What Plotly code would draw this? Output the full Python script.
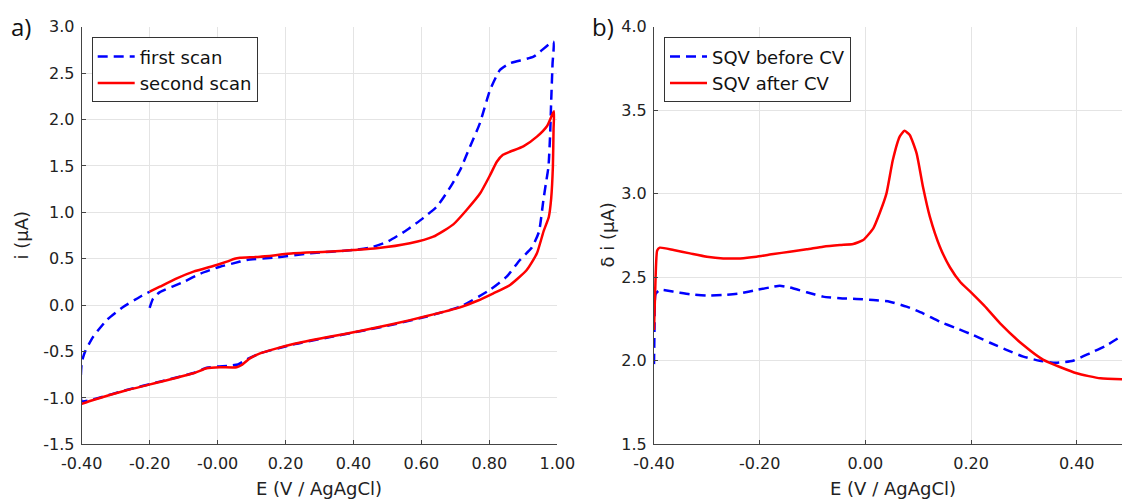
import plotly.graph_objects as go

# ---------------- panel a) cyclic voltammetry ----------------
first_E = [-0.200, -0.190, -0.170, -0.100, -0.050, 0.007, 0.046, 0.086, 0.174, 0.272,
           0.400, 0.450, 0.500, 0.557, 0.606, 0.645, 0.665, 0.690, 0.714, 0.743, 0.772,
           0.802, 0.831, 0.861, 0.930, 0.988,
           0.986, 0.982, 0.979, 0.974, 0.966, 0.959, 0.946, 0.925, 0.890, 0.851,
           0.802, 0.714, 0.616, 0.517, 0.419, 0.321, 0.223, 0.125, 0.086, 0.060,
           0.030, 0.000, -0.032, -0.071, -0.170, -0.268, -0.366, -0.400,
           -0.400, -0.390, -0.366, -0.326, -0.278, -0.228, -0.200]
first_i = [-0.03, 0.07, 0.14, 0.25, 0.34, 0.414, 0.45, 0.486, 0.515, 0.558,
           0.594, 0.62, 0.683, 0.809, 0.940, 1.060, 1.160, 1.300, 1.456, 1.707, 1.959,
           2.318, 2.533, 2.606, 2.677, 2.838,
           2.60, 2.20, 1.85, 1.49, 1.30, 1.13, 0.79, 0.62, 0.486, 0.306,
           0.165, -0.017, -0.122, -0.210, -0.282, -0.352, -0.425, -0.520, -0.585, -0.640,
           -0.655, -0.662, -0.676, -0.732, -0.825, -0.915, -1.015, -1.035,
           -0.62, -0.50, -0.34, -0.16, -0.02, 0.09, 0.144]

second_E = [-0.200, -0.170, -0.120, -0.071, -0.003, 0.027, 0.050, 0.066, 0.125, 0.223,
            0.321, 0.400, 0.468, 0.566, 0.635, 0.694, 0.733, 0.773, 0.802, 0.822,
            0.840, 0.862, 0.900, 0.940, 0.970, 0.990,
            0.989, 0.987, 0.982, 0.975, 0.960, 0.940, 0.910, 0.861, 0.812, 0.763,
            0.714, 0.616, 0.517, 0.419, 0.321, 0.223, 0.174, 0.125, 0.095, 0.071,
            0.056, 0.007, -0.032, -0.071, -0.170, -0.268, -0.366, -0.400]
second_i = [0.144, 0.198, 0.288, 0.360, 0.432, 0.468, 0.500, 0.510, 0.521, 0.558,
            0.575, 0.594, 0.612, 0.666, 0.737, 0.870, 1.025, 1.205, 1.400, 1.545,
            1.620, 1.655, 1.710, 1.815, 1.930, 2.090,
            1.900, 1.490, 1.150, 0.950, 0.800, 0.558, 0.378, 0.217, 0.127, 0.044,
            -0.024, -0.118, -0.204, -0.279, -0.347, -0.420, -0.466, -0.520, -0.574, -0.646,
            -0.670, -0.670, -0.681, -0.735, -0.828, -0.918, -1.023, -1.064]

# ---------------- panel b) square-wave voltammetry ----------------
sqv_before_E = [-0.400, -0.399, -0.397, -0.389, -0.363, -0.332, -0.300, -0.269, -0.237, -0.206,
                -0.174, -0.162, -0.143, -0.111, -0.080, -0.048, -0.017, 0.015, 0.046, 0.078,
                0.109, 0.141, 0.172, 0.204, 0.236, 0.267, 0.299, 0.330, 0.360, 0.393,
                0.425, 0.455, 0.486]
sqv_before_i = [1.98, 2.20, 2.40, 2.424, 2.414, 2.398, 2.390, 2.394, 2.404, 2.424,
                2.443, 2.449, 2.439, 2.410, 2.384, 2.374, 2.370, 2.364, 2.354, 2.324,
                2.284, 2.234, 2.195, 2.154, 2.108, 2.065, 2.025, 2.000, 1.988, 2.000,
                2.045, 2.090, 2.150]

sqv_after_E = [-0.400, -0.397, -0.394, -0.389, -0.363, -0.332, -0.300, -0.269, -0.237, -0.206,
               -0.174, -0.143, -0.111, -0.080, -0.048, -0.023, -0.004, 0.015, 0.027, 0.040,
               0.052, 0.065, 0.074, 0.084, 0.097, 0.109, 0.122, 0.141, 0.160, 0.180,
               0.200, 0.225, 0.255, 0.299, 0.337, 0.400, 0.445, 0.486]
sqv_after_i = [2.184, 2.50, 2.66, 2.677, 2.663, 2.643, 2.623, 2.613, 2.613, 2.623,
               2.639, 2.653, 2.667, 2.683, 2.693, 2.699, 2.723, 2.793, 2.883, 3.002,
               3.202, 3.342, 3.377, 3.352, 3.242, 3.042, 2.863, 2.683, 2.560, 2.470,
               2.410, 2.330, 2.224, 2.094, 2.005, 1.925, 1.895, 1.890]

# tick labels
a_xticks = [-0.4, -0.2, 0.0, 0.2, 0.4, 0.6, 0.8, 1.0]
a_xlabels = ["-0.40", "-0.20", "-0.00", "0.20", "0.40", "0.60", "0.80", "1.00"]
a_yticks = [3.0, 2.5, 2.0, 1.5, 1.0, 0.5, 0.0, -0.5, -1.0, -1.5]
a_ylabels = ["3.0", "2.5", "2.0", "1.5", "1.0", "0.5", "0.0", "-0.5", "-1.0", "-1.5"]
b_xticks = [-0.4, -0.2, 0.0, 0.2, 0.4]
b_xlabels = ["-0.40", "-0.20", "0.00", "0.20", "0.40"]
b_yticks = [4.0, 3.5, 3.0, 2.5, 2.0, 1.5]
b_ylabels = ["4.0", "3.5", "3.0", "2.5", "2.0", "1.5"]

W, H = 1122, 499
FONT = "DejaVu Sans, Liberation Sans, Arial, sans-serif"
BLUE = "#0000ff"
RED = "#ff0000"
DASH = "10px,6px"
LW = 2.5


def px_x(p):
    return p / W


def px_y(p):
    return 1 - p / H


def curve(E, i, name, color, dash, xa, ya, leg):
    return go.Scatter(x=E, y=i, mode="lines", name=name,
                      line=dict(color=color, width=LW, dash=dash,
                                shape="spline", smoothing=0.5),
                      xaxis=xa, yaxis=ya, legend=leg)


fig = go.Figure()
fig.add_trace(curve(first_E, first_i, "first scan", BLUE, DASH, "x", "y", "legend"))
fig.add_trace(curve(second_E, second_i, "second scan", RED, "solid", "x", "y", "legend"))
fig.add_trace(curve(sqv_before_E, sqv_before_i, "SQV before CV", BLUE, DASH, "x2", "y2", "legend2"))
fig.add_trace(curve(sqv_after_E, sqv_after_i, "SQV after CV", RED, "solid", "x2", "y2", "legend2"))

axis_common = dict(
    automargin=False,
    showline=True, linecolor="#444444", linewidth=1, mirror=False,
    showgrid=True, gridcolor="#e4e4e4", gridwidth=1,
    zeroline=False, ticks="inside", ticklen=4, tickcolor="#444444",
    tickfont=dict(family=FONT, size=16, color="#222222"),
)
x_extra = dict(ticklabelstandoff=4)
y_extra = dict(ticklabelstandoff=3)

y_dom = [px_y(444.3), px_y(26.7)]

legend_common = dict(
    xanchor="left", yanchor="top",
    bgcolor="white", bordercolor="#333333", borderwidth=1,
    font=dict(family=FONT, size=18, color="#111111"),
    tracegroupgap=0, itemwidth=37,
)

fig.update_layout(
    width=W, height=H,
    margin=dict(l=0, r=0, t=0, b=0, autoexpand=False),
    paper_bgcolor="white", plot_bgcolor="white",
    showlegend=True,
    xaxis=dict(domain=[px_x(81.7), px_x(557.3)], range=[-0.4, 1.0],
               tickvals=a_xticks, ticktext=a_xlabels, anchor="y",
               **axis_common, **x_extra),
    yaxis=dict(domain=y_dom, range=[-1.5, 3.0],
               tickvals=a_yticks, ticktext=a_ylabels, anchor="x",
               **axis_common, **y_extra),
    xaxis2=dict(domain=[px_x(654.0), 1.0], range=[-0.4, 0.4857],
                tickvals=b_xticks, ticktext=b_xlabels, anchor="y2",
                **axis_common, **x_extra),
    yaxis2=dict(domain=y_dom, range=[1.5, 4.0],
                tickvals=b_yticks, ticktext=b_ylabels, anchor="x2",
                **axis_common, **y_extra),
    legend=dict(x=px_x(91.7), y=px_y(37.3), **legend_common),
    legend2=dict(x=px_x(664.0), y=px_y(37.3), **legend_common),
)

title_font = dict(family=FONT, size=18, color="#222222")
panel_font = dict(family="Open Sans, sans-serif", size=24, color="#111111")

annotations = [
    # panel letters
    dict(text="a)", x=px_x(20.5), y=px_y(27), font=panel_font),
    dict(text="b)", x=px_x(603), y=px_y(27), font=panel_font),
    # axis titles
    dict(text="E (V / AgAgCl)", x=px_x(319.5), y=px_y(488), font=title_font),
    dict(text="E (V / AgAgCl)", x=px_x(892.8), y=px_y(488), font=title_font),
    dict(text="i (μA)", x=px_x(21), y=px_y(235.5), textangle=-90, font=title_font),
    dict(text="δ i (μA)", x=px_x(607), y=px_y(235.5), textangle=-90, font=title_font),
]
for a in annotations:
    a.update(xref="paper", yref="paper", showarrow=False,
             xanchor="center", yanchor="middle")
fig.update_layout(annotations=annotations)

fig.write_html("out.html")
